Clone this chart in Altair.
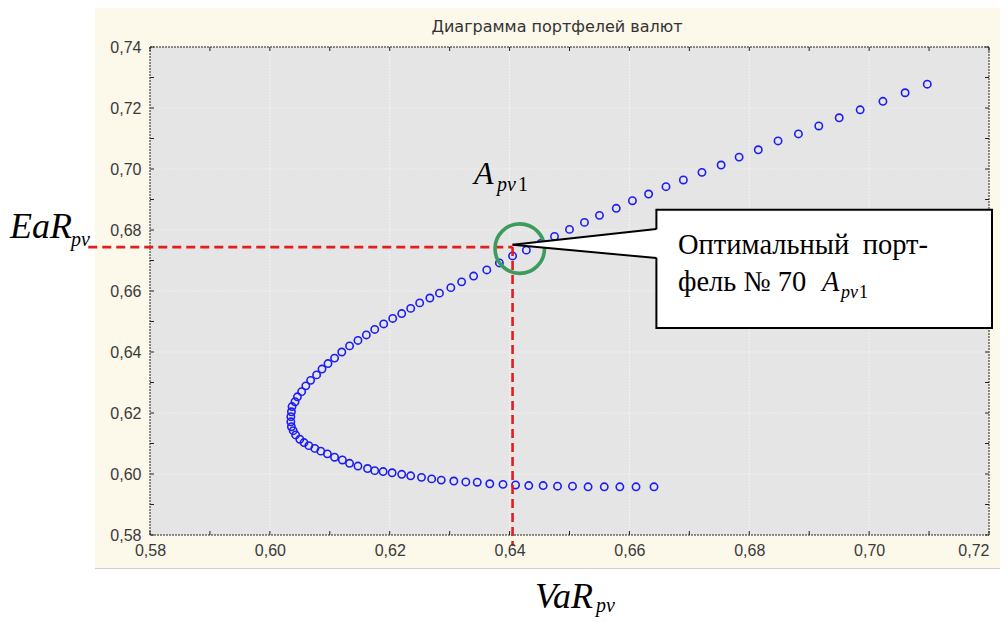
import altair as alt
import pandas as pd

# ---- data ----
var_pv = [0.6641, 0.6611, 0.6584, 0.6558, 0.6531, 0.6505, 0.6480, 0.6456, 0.6432, 0.6410,
          0.6389, 0.6367, 0.6346, 0.6327, 0.6307, 0.6286, 0.6270, 0.6253, 0.6235, 0.6220,
          0.6204, 0.6189, 0.6175, 0.6163, 0.6147, 0.6133, 0.6121, 0.6108, 0.6096, 0.6085,
          0.6075, 0.6065, 0.6057, 0.6050, 0.6043, 0.6039, 0.6036, 0.6035, 0.6035, 0.6036,
          0.6037, 0.6042, 0.6046, 0.6053, 0.6060, 0.6068, 0.6078, 0.6087, 0.6097, 0.6108,
          0.6120, 0.6133, 0.6147, 0.6161, 0.6175, 0.6190, 0.6205, 0.6220, 0.6235, 0.6250,
          0.6267, 0.6283, 0.6302, 0.6320, 0.6340, 0.6362, 0.6383, 0.6405, 0.6428, 0.6452,
          0.6475, 0.6500, 0.6525, 0.6550, 0.6578, 0.6605, 0.6632, 0.6661, 0.6690, 0.6721,
          0.6753, 0.6783, 0.6815, 0.6848, 0.6882, 0.6916, 0.6950, 0.6985, 0.7023, 0.7060, 0.7097]
ear_pv = [0.5958, 0.5958, 0.5958, 0.5958, 0.5958, 0.5960, 0.5960, 0.5962, 0.5962, 0.5964,
          0.5966, 0.5968, 0.5973, 0.5974, 0.5977, 0.5980, 0.5984, 0.5989, 0.5994, 0.5999,
          0.6004, 0.6008, 0.6011, 0.6018, 0.6026, 0.6035, 0.6046, 0.6055, 0.6066, 0.6075,
          0.6084, 0.6093, 0.6103, 0.6114, 0.6128, 0.6142, 0.6155, 0.6171, 0.6188, 0.6204,
          0.6221, 0.6237, 0.6253, 0.6270, 0.6289, 0.6307, 0.6325, 0.6344, 0.6362, 0.6380,
          0.6400, 0.6420, 0.6438, 0.6456, 0.6474, 0.6492, 0.6510, 0.6526, 0.6543, 0.6561,
          0.6577, 0.6593, 0.6611, 0.6630, 0.6649, 0.6669, 0.6692, 0.6715, 0.6734, 0.6756,
          0.6779, 0.6802, 0.6825, 0.6848, 0.6871, 0.6896, 0.6918, 0.6942, 0.6964, 0.6989,
          0.7013, 0.7039, 0.7063, 0.7092, 0.7115, 0.7141, 0.7168, 0.7194, 0.7222, 0.7250, 0.7278]

x_ticks = [0.58, 0.60, 0.62, 0.64, 0.66, 0.68, 0.70, 0.72]
y_ticks = [0.58, 0.60, 0.62, 0.64, 0.66, 0.68, 0.70, 0.72, 0.74]
x_minor = [0.58, 0.59, 0.60, 0.61, 0.62, 0.63, 0.64, 0.65, 0.66, 0.67, 0.68, 0.69, 0.70, 0.71, 0.72]
y_minor = [0.58, 0.59, 0.60, 0.61, 0.62, 0.63, 0.64, 0.65, 0.66, 0.67, 0.68, 0.69, 0.70,
           0.71, 0.72, 0.73, 0.74]

# optimal portfolio No 70 and annotation geometry (data units)
opt_var = [0.6405]
opt_ear = [0.6744]
hline_start = [0.5697]
vline_end = [0.5764]
circle_var = [0.6417]
circle_ear = [0.6739]
box_x = [0.6645]
box_x2 = [0.7205]
box_y = [0.6866]
box_y2 = [0.6479]
ptr_tip = [0.6405, 0.6752]
ptr_upper = [0.6645, 0.6803]
ptr_lower = [0.6645, 0.6708]

title_text = "Диаграмма портфелей валют"
box_word1 = "Оптимальный"
box_word2 = "порт-"
box_line2 = "фель № 70"

W, H = 839, 488
label_expr = "replace(format(datum.value, '.2f'), '.', ',')"

xscale = alt.Scale(domain=[0.58, 0.72], nice=False, zero=False)
yscale = alt.Scale(domain=[0.58, 0.74], nice=False, zero=False)
xaxis = alt.Axis(values=x_ticks, labelExpr=label_expr, title=None, grid=False, ticks=False,
                 tickSize=0, domain=False, labelFont="Liberation Sans", labelFontSize=16,
                 labelColor="#3a3a3a", labelPadding=7, zindex=1, labelFlush=False,
                 labelAlign={"condition": {"test": "datum.value > 0.715", "value": "right"},
                             "value": "center"})
yaxis = alt.Axis(values=y_ticks, labelExpr=label_expr, title=None, grid=False, ticks=False,
                 tickSize=0, domain=False, labelFont="Liberation Sans", labelFontSize=16,
                 labelColor="#3a3a3a", labelPadding=9, zindex=1, labelFlush=False)


def X(f):
    return alt.X(f, type="quantitative", scale=xscale, axis=xaxis)


def Y(f):
    return alt.Y(f, type="quantitative", scale=yscale, axis=yaxis)


one = alt.Data(values=[{"a": 1}])

cream = alt.Chart(one).mark_rect(color="#fcf8ea").encode(
    x=alt.value(-55), x2=alt.value(860), y=alt.value(-40), y2=alt.value(521))
cream_line = alt.Chart(one).mark_rule(color="#cfcfcf", strokeWidth=1).encode(
    x=alt.value(-55), x2=alt.value(860), y=alt.value(521.5))

plot_bg = alt.Chart(one).mark_rect(fill="#e5e5e5", stroke="#222222", strokeWidth=1,
                                   strokeDash=[2, 1]).encode(
    x=alt.value(0), x2=alt.value(W), y=alt.value(0), y2=alt.value(H))

gx = pd.DataFrame({"gx": x_ticks[1:-1]})
gy = pd.DataFrame({"gy": y_ticks[1:-1]})
grid_x = alt.Chart(gx).mark_rule(color="#f3f3f3", strokeWidth=1, strokeDash=[2, 1]).encode(
    x=X("gx"), y=alt.value(0), y2=alt.value(H))
grid_y = alt.Chart(gy).mark_rule(color="#efefef", strokeWidth=1, strokeDash=[2, 1]).encode(
    y=Y("gy"), x=alt.value(0), x2=alt.value(W))

mx = pd.DataFrame({"mx": x_minor})
my = pd.DataFrame({"my": y_minor})
tick_style = dict(color="#222222", strokeWidth=1)
t_bottom = alt.Chart(mx).mark_rule(**tick_style).encode(x=X("mx"), y=alt.value(H), y2=alt.value(H - 4))
t_top = alt.Chart(mx).mark_rule(**tick_style).encode(x=X("mx"), y=alt.value(0), y2=alt.value(4))
t_left = alt.Chart(my).mark_rule(**tick_style).encode(y=Y("my"), x=alt.value(0), x2=alt.value(4))
t_right = alt.Chart(my).mark_rule(**tick_style).encode(y=Y("my"), x=alt.value(W), x2=alt.value(W - 4))

pts = pd.DataFrame({"var": var_pv, "ear": ear_pv})
points = alt.Chart(pts).mark_point(shape="circle", filled=False, size=54, strokeWidth=1.6,
                                   color="#1c1cf4", opacity=1).encode(x=X("var"), y=Y("ear"))

red = dict(color="#e41e1e", strokeWidth=2.6, strokeDash=[9, 5])
hline = alt.Chart(pd.DataFrame({"x": hline_start, "x2": opt_var, "y": opt_ear})).mark_rule(**red).encode(
    x=X("x"), x2="x2", y=Y("y"))
vline = alt.Chart(pd.DataFrame({"x": opt_var, "y": opt_ear, "y2": vline_end})).mark_rule(**red).encode(
    x=X("x"), y=Y("y"), y2="y2")

circle = alt.Chart(pd.DataFrame({"x": circle_var, "y": circle_ear})).mark_point(
    shape="circle", filled=False, size=2450, stroke="#3d9b5e", strokeWidth=3.6, opacity=1).encode(
    x=X("x"), y=Y("y"))

box = alt.Chart(pd.DataFrame({"x": box_x, "x2": box_x2, "y": box_y, "y2": box_y2})).mark_rect(
    fill="white", stroke="black", strokeWidth=2).encode(x=X("x"), x2="x2", y=Y("y"), y2="y2")

ptr_area = alt.Chart(pd.DataFrame({
    "x": [ptr_tip[0], ptr_upper[0] + 0.0006],
    "y": [ptr_tip[1], ptr_upper[1]],
    "y2": [ptr_tip[1], ptr_lower[1]]})).mark_area(color="white", opacity=1).encode(
    x=X("x"), y=Y("y"), y2="y2")
ptr_lines = alt.Chart(pd.DataFrame({
    "x": [ptr_tip[0], ptr_tip[0]], "y": [ptr_tip[1], ptr_tip[1]],
    "x2": [ptr_upper[0], ptr_lower[0]], "y2": [ptr_upper[1], ptr_lower[1]]})).mark_rule(
    color="black", strokeWidth=2).encode(x=X("x"), y=Y("y"), x2="x2", y2="y2")


def txt(t, px, py, size, font="Liberation Serif", style="normal", align="left", color="black"):
    return alt.Chart(one).mark_text(text=t, font=font, fontSize=size, fontStyle=style,
                                    align=align, baseline="alphabetic", color=color).encode(
        x=alt.value(px), y=alt.value(py))


texts = [
    txt(title_text, 407, -15, 16, font="DejaVu Sans", align="center", color="#333333"),
    txt("EaR", -140, 191, 36, style="italic"),
    txt("pv", -79, 199, 20, style="italic"),
    txt("VaR", 385, 561, 36, style="italic"),
    txt("pv", 446, 565, 20, style="italic"),
    txt("A", 324, 137, 32, style="italic"),
    txt("pv", 347, 144, 20, style="italic"),
    txt("1", 368, 144, 20),
    txt(box_word1, 528, 207, 28.5),
    txt(box_word2, 778, 207, 28.5, align="right"),
    txt(box_line2, 528, 244, 28.5),
    txt("A", 672, 244, 28.5, style="italic"),
    txt("pv", 691, 251, 18, style="italic"),
    txt("1", 709, 251, 18),
]

chart = alt.layer(
    cream, cream_line, plot_bg, grid_x, grid_y, t_bottom, t_top, t_left, t_right,
    points, hline, vline, circle, box, ptr_area, ptr_lines, *texts
).properties(
    width=W, height=H,
    padding={"left": 142, "top": 39, "right": 11, "bottom": 82},
    autosize=alt.AutoSizeParams(type="none"),
    background="white",
).configure_view(stroke=None)

chart.save("out.html", embed_options={"renderer": "svg", "actions": False})
